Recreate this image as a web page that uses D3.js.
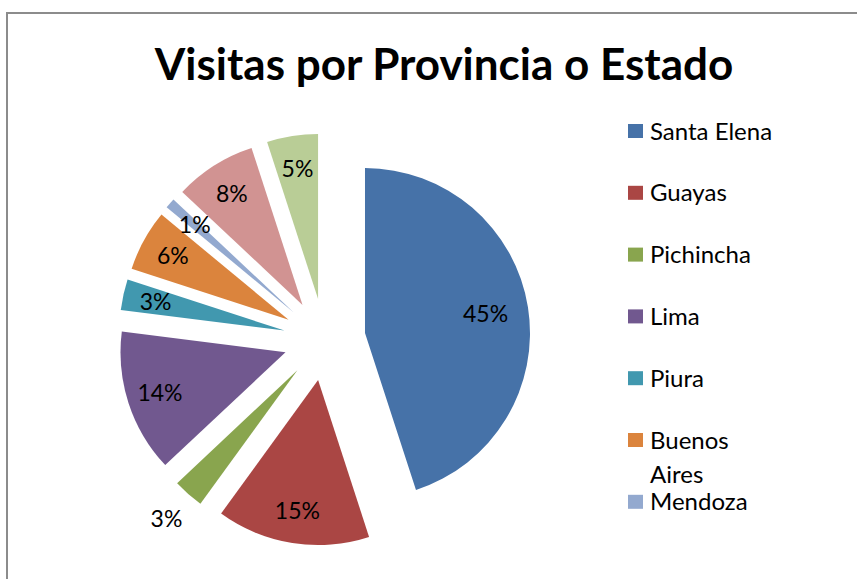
<!DOCTYPE html>
<html>
<head>
<meta charset="utf-8">
<script src="https://cdn.jsdelivr.net/npm/d3@7"></script>
<style>
  html, body { margin: 0; padding: 0; background: #fff; }
  svg { display: block; }
  text { font-family: Lato, "Open Sans", sans-serif; fill: #000; }
</style>
</head>
<body>
<svg id="chart" width="857" height="579"></svg>
<script>
// ---- Data ----
const title = "Visitas por Provincia o Estado";
const categories = ["Santa Elena", "Guayas", "Pichincha", "Lima", "Piura", "Buenos Aires", "Mendoza", "Otros 1", "Otros 2"];
const values = [45, 15, 3, 14, 3, 6, 1, 8, 5];
const colors = ["#4672A8", "#AA4644", "#89A54E", "#71588F", "#4198AF", "#DB843D", "#93A9CF", "#D19392", "#B9CD96"];

// ---- Layout ----
const W = 857, H = 579;
const svg = d3.select("#chart");

// frame
svg.append("rect")
  .attr("x", 7).attr("y", 13)
  .attr("width", W + 20).attr("height", H + 20)
  .attr("fill", "#fff").attr("stroke", "#8c8c8c").attr("stroke-width", 2);

// title
svg.append("text")
  .attr("x", 444).attr("y", 80)
  .attr("text-anchor", "middle")
  .style("font-size", "44px").style("font-weight", "bold")
  .text(title);

const cx = 324.5, cy = 339.5, R = 165, explode = 41;
const total = d3.sum(values);
const data = categories.map((c, i) => ({ name: c, value: values[i], color: colors[i] }));

const pie = d3.pie().sort(null).value(d => d.value);
const arcs = pie(data);
const arc = d3.arc().innerRadius(0).outerRadius(R);
const color = d3.scaleOrdinal().domain(categories).range(colors);

const g = svg.append("g").attr("transform", `translate(${cx},${cy})`);

const slice = g.selectAll("g.slice").data(arcs).enter().append("g")
  .attr("class", "slice")
  .attr("transform", d => {
    const m = (d.startAngle + d.endAngle) / 2;
    return `translate(${explode * Math.sin(m)},${-explode * Math.cos(m)})`;
  });

slice.append("path")
  .attr("d", arc)
  .attr("fill", d => color(d.data.name));

slice.append("text")
  .attr("text-anchor", "middle")
  .attr("dy", "0.36em")
  .style("font-size", "23px")
  .attr("transform", d => {
    const m = (d.startAngle + d.endAngle) / 2;
    let k = d.data.value / total > 0.3 ? 0.74 : 0.8;
    if (d.data.name === "Pichincha") k = 1.2;
    return `translate(${R * k * Math.sin(m)},${-R * k * Math.cos(m)})`;
  })
  .text(d => Math.round(100 * d.data.value / total) + "%");

// legend
const legend = svg.append("g").attr("transform", "translate(628,131)");
const rowH = 61.8;
const visible = data.filter((d, i) => 131 + i * rowH < 540);
const rows = legend.selectAll("g").data(visible).enter().append("g")
  .attr("transform", (d, i) => `translate(0,${i * rowH})`);
rows.append("rect")
  .attr("x", 0).attr("y", -7).attr("width", 15).attr("height", 14)
  .attr("fill", d => d.color);
rows.each(function (d) {
  const t = d3.select(this).append("text")
    .attr("x", 22).attr("y", 0).attr("dy", "0.36em")
    .style("font-size", "24px");
  const words = d.name.split(" ");
  if (d.name.length > 11 && words.length > 1) {
    words.forEach((w, j) => {
      t.append("tspan").attr("x", 22).attr("dy", j === 0 ? "0.36em" : "34px").text(w);
    });
    t.attr("dy", null);
  } else {
    t.text(d.name);
  }
});
</script>
</body>
</html>
